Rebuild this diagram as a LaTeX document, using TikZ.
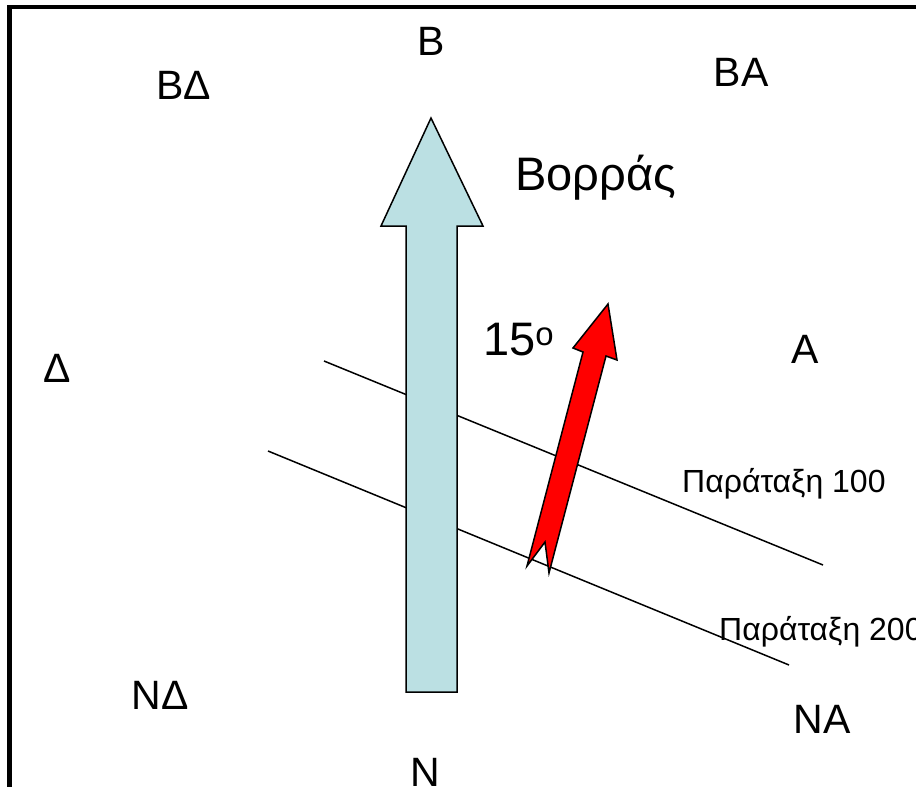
\documentclass[tikz,border=0pt]{standalone}
\usepackage{fontspec}
\setmainfont{Liberation Sans}
\usetikzlibrary{positioning}
\definecolor{northblue}{HTML}{BBE0E3}
\definecolor{strikered}{HTML}{FF0000}

\begin{document}
\begin{tikzpicture}[
  x=1pt, y=-1pt,
  compass/.style={anchor=base, inner sep=0pt, font=\fontsize{41}{41}\selectfont},
  bigtext/.style={anchor=base west, inner sep=0pt, font=\fontsize{47}{47}\selectfont},
  striketext/.style={anchor=base west, inner sep=0pt, font=\fontsize{32}{32}\selectfont},
  strikeline/.style={line width=1.5pt},
  arrowshape/.style={draw, line width=1.5pt, line join=miter},
]
\useasboundingbox (0,0) rectangle (916,787);

% frame (only left and top edges are visible)
\draw[line width=4.5pt] (9.5,787) -- (9.5,7) -- (916,7);

% strike lines
\coordinate (s1a) at (324,361);
\coordinate (s1b) at (823,565);
\coordinate (s2a) at (268,451);
\coordinate (s2b) at (789,665);
\draw[strikeline] (s1a) -- (s1b);
\draw[strikeline] (s2a) -- (s2b);

% north arrow
\filldraw[arrowshape, fill=northblue]
  (431,118) -- (483,226) -- (457,226) -- (457,692) -- (406,692)
  -- (406,226) -- (381,226) -- cycle;

% dip direction arrow
\filldraw[arrowshape, fill=strikered]
  (608,304) -- (617,360) -- (606,356) -- (549,573) -- (545,542)
  -- (527,566) -- (583,352) -- (573,348) -- cycle;

% compass labels
\node[compass] (north)  at (431,55)  {Β};
\node[compass] (nwest)  at (184,99)  {ΒΔ};
\node[compass] (neast)  at (741,86)  {ΒΑ};
\node[compass] (west)   at (57,382)  {Δ};
\node[compass] (east)   at (805,363) {Α};
\node[compass] (swest)  at (160,709) {ΝΔ};
\node[compass] (seast)  at (822,733) {ΝΑ};
\node[compass] (south)  at (425,786) {Ν};

% other labels
\node[bigtext] (borras) at (515,190) {Βορράς};
\node[bigtext] (angle)  at (483,355) {15\textsuperscript{o}};
\node[striketext] (par100) at (682,492) {Παράταξη 100};
\node[striketext] (par200) at (719,640) {Παράταξη 200};
\end{tikzpicture}
\end{document}
